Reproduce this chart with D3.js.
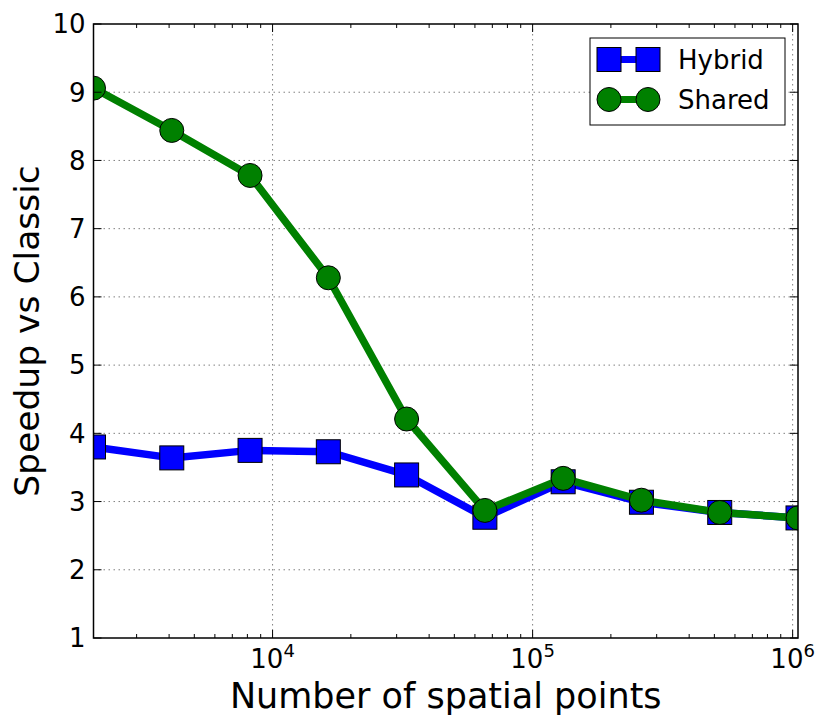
<!DOCTYPE html>
<html>
<head>
<meta charset="utf-8">
<script src="https://cdn.jsdelivr.net/npm/d3@7"></script>
<style>
  body { margin: 0; background: #fff; }
  svg { font-family: "DejaVu Sans", sans-serif; }
</style>
</head>
<body>
<div id="chart"></div>
<script>
// Data
const points = [2048, 4096, 8192, 16384, 32768, 65536, 131072, 262144, 524288, 1048576];
const hybrid = [3.80, 3.64, 3.75, 3.73, 3.39, 2.77, 3.29, 2.99, 2.84, 2.76];
const shared = [9.06, 8.44, 7.78, 6.28, 4.21, 2.87, 3.34, 3.02, 2.84, 2.76];
const yTicks = [1, 2, 3, 4, 5, 6, 7, 8, 9, 10];
const xDecades = [4, 5, 6];
const seriesNames = ["Hybrid", "Shared"];

// Configuration
const margin = {top: 24, right: 32, bottom: 89, left: 93.5};
const W = 830, H = 727;
const width = W - margin.left - margin.right;
const height = H - margin.top - margin.bottom;

const svg = d3.select("#chart")
    .append("svg")
    .attr("width", W)
    .attr("height", H);

const g = svg.append("g")
    .attr("transform", `translate(${margin.left},${margin.top})`);

// Scales
const x = d3.scaleLog().domain([2048, 1048576]).range([0, width]);
const y = d3.scaleLinear().domain([1, 10]).range([height, 0]);

g.append("clipPath").attr("id", "clip")
    .append("rect").attr("width", width).attr("height", height);

// Grid
const grid = g.append("g").attr("stroke", "#808080").attr("stroke-width", 1)
    .attr("stroke-dasharray", "1.5,3.5");
grid.selectAll(".gx").data(xDecades).enter().append("line")
    .attr("x1", d => x(Math.pow(10, d))).attr("x2", d => x(Math.pow(10, d)))
    .attr("y1", 0).attr("y2", height);
grid.selectAll(".gy").data(yTicks.slice(1, -1)).enter().append("line")
    .attr("x1", 0).attr("x2", width)
    .attr("y1", d => y(d)).attr("y2", d => y(d));

// Series
const series = [
    {name: seriesNames[0], values: hybrid, color: "#0000ff", marker: "square"},
    {name: seriesNames[1], values: shared, color: "#008000", marker: "circle"}
];

const line = d3.line()
    .x((d, i) => x(points[i]))
    .y(d => y(d));

const plot = g.append("g").attr("clip-path", "url(#clip)");

function drawMarker(sel, s, cx, cy) {
    if (s.marker === "square") {
        sel.append("rect")
            .attr("x", cx - 12).attr("y", cy - 12)
            .attr("width", 24).attr("height", 24)
            .attr("fill", s.color).attr("stroke", "#000").attr("stroke-width", 1);
    } else {
        sel.append("circle")
            .attr("cx", cx).attr("cy", cy).attr("r", 12)
            .attr("fill", s.color).attr("stroke", "#000").attr("stroke-width", 1);
    }
}

series.forEach(s => {
    plot.append("path")
        .datum(s.values)
        .attr("d", line)
        .attr("fill", "none")
        .attr("stroke", s.color)
        .attr("stroke-width", 7.5)
        .attr("stroke-linejoin", "round");
    s.values.forEach((v, i) => drawMarker(plot, s, x(points[i]), y(v)));
});

// Axes frame and ticks (inside, all four sides)
const axes = g.append("g").attr("stroke", "#000");
axes.append("rect").attr("width", width).attr("height", height)
    .attr("fill", "none").attr("stroke-width", 1.5);

const minor = [];
for (let e = 3; e <= 6; e++) {
    for (let m = 2; m <= 9; m++) {
        const v = m * Math.pow(10, e);
        if (v > 2048 && v < 1048576) minor.push(v);
    }
}
minor.forEach(v => {
    const px = x(v);
    axes.append("line").attr("x1", px).attr("x2", px).attr("y1", height).attr("y2", height - 4);
    axes.append("line").attr("x1", px).attr("x2", px).attr("y1", 0).attr("y2", 4);
});
xDecades.forEach(d => {
    const px = x(Math.pow(10, d));
    axes.append("line").attr("x1", px).attr("x2", px).attr("y1", height).attr("y2", height - 8);
    axes.append("line").attr("x1", px).attr("x2", px).attr("y1", 0).attr("y2", 8);
});
yTicks.forEach(v => {
    axes.append("line").attr("x1", 0).attr("x2", 8).attr("y1", y(v)).attr("y2", y(v));
    axes.append("line").attr("x1", width).attr("x2", width - 8).attr("y1", y(v)).attr("y2", y(v));
});

// Tick labels
g.selectAll(".ylab").data(yTicks).enter().append("text")
    .attr("x", -8).attr("y", d => y(d))
    .attr("dy", "0.36em")
    .attr("text-anchor", "end")
    .style("font-size", "26px")
    .text(d => d);

const xl = g.selectAll(".xlab").data(xDecades).enter().append("text")
    .attr("x", d => x(Math.pow(10, d)))
    .attr("y", height + 30)
    .attr("text-anchor", "middle")
    .style("font-size", "26px");
xl.append("tspan").text("10");
xl.append("tspan").attr("dy", -11).style("font-size", "18px").text(d => d);

// Axis labels
svg.append("text")
    .attr("x", margin.left + width / 2)
    .attr("y", 708)
    .attr("text-anchor", "middle")
    .style("font-size", "35px")
    .text("Number of spatial points");

svg.append("text")
    .attr("transform", `translate(39,${margin.top + height / 2}) rotate(-90)`)
    .attr("text-anchor", "middle")
    .style("font-size", "34.5px")
    .text("Speedup vs Classic");

// Legend
const legend = svg.append("g").attr("transform", "translate(590,38)");
legend.append("rect").attr("width", 195).attr("height", 87)
    .attr("fill", "#fff").attr("stroke", "#000").attr("stroke-width", 1);
series.forEach((s, i) => {
    const ly = 21.5 + i * 40;
    legend.append("line").attr("x1", 19).attr("x2", 58).attr("y1", ly).attr("y2", ly)
        .attr("stroke", s.color).attr("stroke-width", 7);
    drawMarker(legend, s, 19, ly);
    drawMarker(legend, s, 58, ly);
    legend.append("text").attr("x", 88).attr("y", ly).attr("dy", "0.36em")
        .style("font-size", "26px").text(s.name);
});
</script>
</body>
</html>
